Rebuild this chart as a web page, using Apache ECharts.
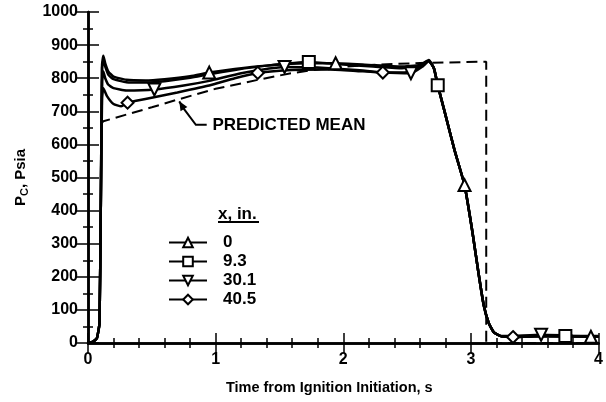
<!DOCTYPE html>
<html>
<head>
<meta charset="utf-8">
<script src="https://cdn.jsdelivr.net/npm/echarts@6/dist/echarts.min.js"></script>
<style>html,body{margin:0;padding:0;background:#fff;}#c{width:606px;height:402px;}</style>
</head>
<body>
<div id="c"></div>
<script>
// ---- data ----
var xTicks = [0, 1, 2, 3, 4];
var yTicks = [0, 100, 200, 300, 400, 500, 600, 700, 800, 900, 1000];
var seriesNames = ['0', '9.3', '30.1', '40.5'];

var curve0 = [[0,0],[0.04,4],[0.07,15],[0.09,60],[0.1,400],[0.11,840],[0.12,868],[0.135,845],[0.16,820],[0.2,805],[0.3,795],[0.45,793],[0.6,797],[0.8,806],[1.15,828],[1.4,838],[1.7,845],[2.2,840],[2.45,835],[2.6,840],[2.67,855],[2.71,830],[2.74,779],[2.8,690],[2.87,585],[3.01,340],[3.06,210],[3.1,115],[3.14,60],[3.18,32],[3.24,20],[3.33,18],[3.55,22],[3.74,20],[4,19]];
var curve1 = [[0,0],[0.04,4],[0.07,15],[0.09,60],[0.1,400],[0.11,830],[0.12,855],[0.135,835],[0.16,810],[0.2,797],[0.3,788],[0.45,787],[0.6,791],[0.8,801],[0.95,812],[1.15,825],[1.4,838],[1.95,843],[2.2,836],[2.45,830],[2.6,838],[2.67,853],[2.71,830],[2.8,690],[2.87,585],[2.95,477],[3.01,340],[3.06,210],[3.1,115],[3.14,60],[3.18,32],[3.24,20],[3.4,20],[3.6,21],[4,20]];
var curve2 = [[0,0],[0.04,4],[0.07,15],[0.09,60],[0.1,400],[0.11,790],[0.12,820],[0.135,800],[0.16,780],[0.2,770],[0.3,763],[0.75,778],[0.95,792],[1.2,815],[1.8,832],[2.1,825],[2.3,818],[2.62,835],[2.67,852],[2.71,830],[2.74,779],[2.8,690],[2.87,585],[2.95,477],[3.01,340],[3.06,210],[3.1,115],[3.14,60],[3.18,32],[3.24,21],[3.35,22],[3.8,22],[4,21]];
var curve3 = [[0,0],[0.04,4],[0.07,15],[0.09,60],[0.1,400],[0.11,740],[0.12,770],[0.15,745],[0.2,722],[0.26,715],[0.45,737],[0.7,757],[0.95,778],[1.15,800],[1.6,825],[1.9,826],[2.1,822],[2.5,818],[2.62,838],[2.67,852],[2.71,830],[2.74,779],[2.8,690],[2.87,585],[2.95,477],[3.01,340],[3.06,210],[3.1,115],[3.14,60],[3.18,32],[3.24,20],[3.5,20],[4,19]];

var markers0 = [[0.95,817],[1.94,845],[2.95,477],[3.94,19]];
var markers1 = [[1.73,849],[2.74,779],[3.74,21]];
var markers2 = [[0.52,766],[1.54,834],[2.53,815],[3.55,25]];
var markers3 = [[0.31,726],[1.33,816],[2.31,817],[3.33,18]];

var predictedMean = [[0.1,660],[0.12,670],[0.3,690],[0.5,712],[0.69,734],[1.0,768],[1.33,795],[1.59,815],[1.9,832],[2.2,840],[2.6,846],[3.12,850],[3.12,0],[4,0]];

var annotationText = 'PREDICTED MEAN';
var annotationLeader = [[0.93,659],[0.845,659],[0.75,708],[0.715,730]];
var annotationTextAt = [0.975,659];
var legendTitle = 'x, in.';

// ---- build ----
var FONT = 'Liberation Sans';
var symbols = ['triangle', 'rect', 'triangle', 'diamond'];
var rotates = [0, 0, 180, 0];
var curves = [curve0, curve1, curve2, curve3];
var markers = [markers0, markers1, markers2, markers3];

function buildData(curve, mk, sym, rot) {
  var pts = curve.map(function (p) { return { value: p, symbol: 'none' }; });
  mk.forEach(function (p) { pts.push({ value: p, symbol: sym, symbolRotate: rot }); });
  pts.sort(function (a, b) { return a.value[0] - b.value[0]; });
  return pts;
}

var series = [];
series.push({
  name: 'predicted', type: 'line', data: predictedMean, showSymbol: false, symbol: 'none',
  lineStyle: { color: '#000', width: 2, type: [11, 6] }, z: 1, silent: true
});
for (var i = 0; i < 4; i++) {
  series.push({
    name: seriesNames[i], type: 'line',
    data: buildData(curves[i], markers[i], symbols[i], rotates[i]),
    symbol: symbols[i], symbolRotate: rotates[i], symbolSize: 12,
    showSymbol: true, showAllSymbol: true,
    smooth: 0.15,
    lineStyle: { color: '#000', width: 2.5 },
    itemStyle: { color: '#fff', borderColor: '#000', borderWidth: 2 },
    z: 3
  });
}

var axisCommon = {
  axisLine: { lineStyle: { color: '#000', width: 2.5 } },
  splitLine: { show: false }
};
function plain(v) { return String(v); }

var chart = echarts.init(document.getElementById('c'), null, { renderer: 'canvas' });
var option = {
  animation: false,
  backgroundColor: '#fff',
  grid: { left: 88, right: 2, top: 12, bottom: 59, containLabel: false },
  legend: {
    data: seriesNames, orient: 'vertical', left: 168, top: 234, padding: 0,
    itemWidth: 38, itemHeight: 12, itemGap: 2,
    textStyle: { fontFamily: FONT, fontSize: 17, fontWeight: 'bold', color: '#000', padding: [0, 0, 0, 11] },
    symbolRotate: 'inherit'
  },
  xAxis: [
    Object.assign({}, axisCommon, {
      type: 'value', min: 0, max: 4, interval: 1, position: 'bottom',
      axisTick: { inside: true, length: 10, lineStyle: { width: 1.5, color: '#000' } },
      minorTick: { show: true, splitNumber: 5, length: 5, lineStyle: { width: 1.5, color: '#000' } },
      axisLabel: { color: '#000', fontFamily: FONT, fontWeight: 'bold', fontSize: 16, margin: 9, formatter: plain },
      name: 'Time from Ignition Initiation, s', nameLocation: 'middle', nameGap: 37,
      nameTextStyle: { color: '#000', fontFamily: FONT, fontWeight: 'bold', fontSize: 14.5, padding: [0, 28, 0, 0] }
    }),
    Object.assign({}, axisCommon, {
      type: 'value', min: 0, max: 4, interval: 1, position: 'top',
      axisTick: { inside: true, length: 10, lineStyle: { width: 1.5, color: '#000' } },
      minorTick: { show: true, splitNumber: 5, length: 5, lineStyle: { width: 1.5, color: '#000' } },
      axisLabel: { show: false }
    })
  ],
  yAxis: [
    Object.assign({}, axisCommon, {
      type: 'value', min: 0, max: 1000, interval: 100, position: 'left',
      axisTick: { inside: true, length: 11, lineStyle: { width: 1.5, color: '#000' } },
      minorTick: { show: true, splitNumber: 2, length: 5, lineStyle: { width: 1.5, color: '#000' } },
      axisLabel: { color: '#000', fontFamily: FONT, fontWeight: 'bold', fontSize: 16, margin: 10, formatter: plain },
      name: 'P{s|C}, Psia', nameLocation: 'middle', nameGap: 58, nameRotate: 90,
      nameTextStyle: {
        color: '#000', fontFamily: FONT, fontWeight: 'bold', fontSize: 15,
        rich: { s: { fontFamily: FONT, fontWeight: 'bold', fontSize: 11, padding: [8, 0, 0, 0], color: '#000' } }
      }
    }),
    Object.assign({}, axisCommon, {
      type: 'value', min: 0, max: 1000, interval: 100, position: 'right',
      axisTick: { inside: true, length: 11, lineStyle: { width: 1.5, color: '#000' } },
      minorTick: { show: true, splitNumber: 2, length: 5, lineStyle: { width: 1.5, color: '#000' } },
      axisLabel: { show: false }
    })
  ],
  series: series
};
chart.setOption(option);

// annotation and legend title, placed in data coordinates
function px(p) { return chart.convertToPixel({ xAxisIndex: 0, yAxisIndex: 0 }, p); }
var lp = annotationLeader.map(px);
var tip = lp[lp.length - 1], prev = lp[lp.length - 2];
var ang = Math.atan2(tip[1] - prev[1], tip[0] - prev[0]);
var L = 9, W = 4;
var bx = tip[0] - L * Math.cos(ang), by = tip[1] - L * Math.sin(ang);
var head = [tip, [bx + W * Math.sin(ang), by - W * Math.cos(ang)], [bx - W * Math.sin(ang), by + W * Math.cos(ang)]];
var tp = px(annotationTextAt);
chart.setOption({
  graphic: [
    { type: 'polyline', shape: { points: lp }, style: { stroke: '#000', lineWidth: 2, fill: null }, z: 10 },
    { type: 'polygon', shape: { points: head }, style: { fill: '#000' }, z: 10 },
    { type: 'text', x: tp[0], y: tp[1], style: { text: annotationText, fill: '#000', font: 'bold 17px "Liberation Sans"', verticalAlign: 'middle', align: 'left' }, z: 10 },
    { type: 'text', x: 218, y: 214, style: { text: legendTitle, fill: '#000', font: 'bold 17px "Liberation Sans"', verticalAlign: 'middle', align: 'left' }, z: 10 },
    { type: 'line', shape: { x1: 218, y1: 222, x2: 259, y2: 222 }, style: { stroke: '#000', lineWidth: 2 }, z: 10 }
  ]
});
</script>
</body>
</html>
